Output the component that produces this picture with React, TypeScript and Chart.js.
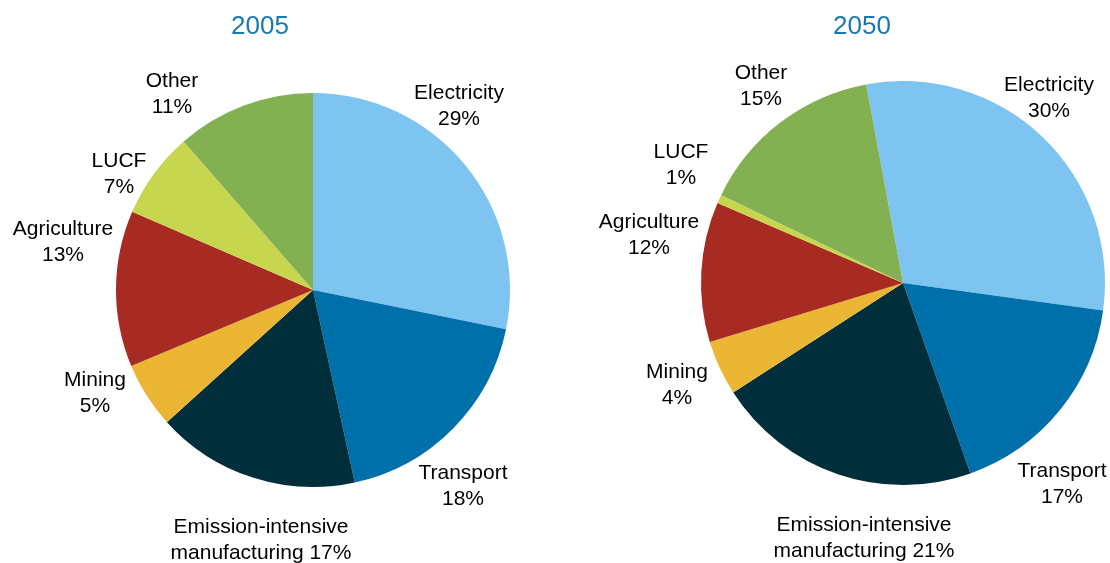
import React, { useEffect, useRef } from "react";
import { Chart, registerables } from "chart.js";

Chart.register(...registerables);

const categories = ["Electricity", "Transport", "Emission-intensive manufacturing", "Mining", "Agriculture", "LUCF", "Other"];
const share2005 = [28.2, 18.4, 16.7, 5.4, 12.8, 7.1, 11.4];
const share2050 = [30.1, 17.4, 21.3, 4.4, 11.2, 0.7, 14.9];
const pct2005 = ["29%", "18%", "17%", "5%", "13%", "7%", "11%"];
const pct2050 = ["30%", "17%", "21%", "4%", "12%", "1%", "15%"];
const colors = ["#7DC4F1", "#0070AA", "#002E3A", "#EAB634", "#A72B22", "#C6D74F", "#83B050"];

const FONT = "'Liberation Sans', Arial, sans-serif";

type PieCfg = {
  title: string;
  values: number[];
  pcts: string[];
  rotation: number;
  padding: { left: number; right: number; top: number; bottom: number };
  titleOffset: [number, number];
  labelOffsets: [number, number][];
};

const pies: PieCfg[] = [
  {
    title: "2005",
    values: share2005,
    pcts: pct2005,
    rotation: 0,
    padding: { left: 116, right: 45, top: 93, bottom: 76 },
    titleOffset: [-53, -263],
    labelOffsets: [[146, -197], [150, 183], [-52, 237], [-218, 90], [-250, -61], [-194, -129], [-141, -209]],
  },
  {
    title: "2050",
    values: share2050,
    pcts: pct2050,
    rotation: -10.5,
    padding: { left: 146, right: 5, top: 81, bottom: 78 },
    titleOffset: [-41, -256],
    labelOffsets: [[146, -198], [159, 188], [-39, 242], [-226, 89], [-254, -61], [-222, -131], [-142, -210]],
  },
];

function labelLines(i: number, pct: string): [string, string] {
  const name = categories[i];
  if (name.startsWith("Emission")) return ["Emission-intensive", "manufacturing " + pct];
  return [name, pct];
}

function PieChart({ cfg }: { cfg: PieCfg }) {
  const ref = useRef<HTMLCanvasElement | null>(null);
  useEffect(() => {
    if (!ref.current) return;
    const labelPlugin = {
      id: "pieLabels",
      afterDraw(chart: any) {
        const ctx = chart.ctx;
        const meta = chart.getDatasetMeta(0);
        const arc0 = meta.data[0];
        const cx = arc0.x;
        const cy = arc0.y;
        ctx.save();
        ctx.textAlign = "center";
        ctx.textBaseline = "middle";
        ctx.fillStyle = "#1A78B0";
        ctx.font = `26px ${FONT}`;
        ctx.fillText(cfg.title, cx + cfg.titleOffset[0], cy + cfg.titleOffset[1]);
        ctx.fillStyle = "#000";
        ctx.font = `21px ${FONT}`;
        meta.data.forEach((_: any, i: number) => {
          const [dx, dy] = cfg.labelOffsets[i];
          const [l1, l2] = labelLines(i, cfg.pcts[i]);
          ctx.fillText(l1, cx + dx, cy + dy);
          ctx.fillText(l2, cx + dx, cy + dy + 26.5);
        });
        ctx.restore();
      },
    };
    const chart = new Chart(ref.current, {
      type: "pie",
      data: {
        labels: categories,
        datasets: [
          {
            data: cfg.values,
            backgroundColor: colors,
            borderWidth: 0,
          },
        ],
      },
      options: {
        responsive: false,
        animation: false,
        rotation: cfg.rotation,
        layout: { padding: cfg.padding },
        plugins: { legend: { display: false }, tooltip: { enabled: false }, title: { display: false } },
      },
      plugins: [labelPlugin],
    });
    return () => chart.destroy();
  }, [cfg]);
  return <canvas ref={ref} width={555} height={563} style={{ width: 555, height: 563, display: "block" }} />;
}

export default function App() {
  return (
    <div style={{ position: "fixed", left: 0, top: 0, width: 1110, height: 563, background: "#fff", display: "flex" }}>
      {pies.map((p) => (
        <PieChart key={p.title} cfg={p} />
      ))}
    </div>
  );
}
